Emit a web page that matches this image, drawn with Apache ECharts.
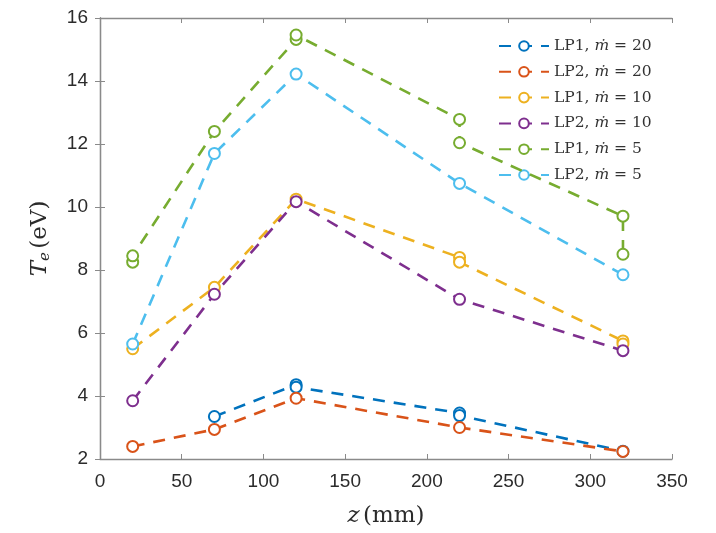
<!DOCTYPE html>
<html>
<head>
<meta charset="utf-8">
<script src="https://cdn.jsdelivr.net/npm/echarts@6/dist/echarts.min.js"></script>
<style>
  html, body { margin: 0; padding: 0; background: #fff; }
  #chart { width: 716px; height: 533px; }
</style>
</head>
<body>
<div id="chart"></div>
<script>
// Axial position of the probes, z (mm)
const zTicks = [0, 50, 100, 150, 200, 250, 300, 350];
const teTicks = [2, 4, 6, 8, 10, 12, 14, 16];

// Electron temperature Te (eV) measured at each z; repeated z = repeated shots
const lp1_m20 = [[70, 3.35], [120, 4.36], [120, 4.28], [220, 3.46], [220, 3.38], [320, 2.25]];
const lp2_m20 = [[20, 2.40], [70, 2.94], [120, 3.93], [220, 3.00], [320, 2.24]];
const lp1_m10 = [[20, 5.50], [70, 7.45], [120, 10.25], [220, 8.40], [220, 8.25], [320, 5.75], [320, 5.65]];
const lp2_m10 = [[20, 3.85], [70, 7.23], [120, 10.17], [220, 7.07], [320, 5.44]];
const lp1_m5  = [[20, 8.25], [20, 8.45], [70, 12.40], [120, 15.32], [120, 15.46], [220, 12.78], [220, 12.04], [320, 9.71], [320, 8.50]];
const lp2_m5  = [[20, 5.65], [70, 11.70], [120, 14.22], [220, 10.75], [320, 7.85]];

const seriesNames = ['LP1, ṁ = 20', 'LP2, ṁ = 20', 'LP1, ṁ = 10', 'LP2, ṁ = 10', 'LP1, ṁ = 5', 'LP2, ṁ = 5'];
const seriesData = [lp1_m20, lp2_m20, lp1_m10, lp2_m10, lp1_m5, lp2_m5];
const colors = ['#0072BD', '#D95319', '#EDB120', '#7E2F8E', '#77AC30', '#4DBEEE'];

const axisColor = '#8a8a8a';
const labelColor = '#2b2b2b';
const serif = '"DejaVu Serif", "Liberation Serif", serif';
const sans = '"Liberation Sans", Arial, sans-serif';

function frameAxis(extra) {
  return Object.assign({
    type: 'value',
    axisLine: { show: true, lineStyle: { color: axisColor, width: 1.3 } },
    axisTick: { show: true, inside: true, length: 5, lineStyle: { color: axisColor } },
    splitLine: { show: false },
    axisLabel: { show: false }
  }, extra);
}

const chart = echarts.init(document.getElementById('chart'), null, { renderer: 'canvas' });

chart.setOption({
  backgroundColor: '#ffffff',
  animation: false,
  color: colors,
  grid: { left: 100, right: 44, top: 18, bottom: 74, containLabel: false, outerBoundsMode: 'none' },
  xAxis: [
    frameAxis({
      min: zTicks[0], max: zTicks[zTicks.length - 1], interval: 50,
      position: 'bottom',
      axisLabel: { show: true, color: labelColor, fontSize: 19, fontFamily: sans, margin: 13 },
      name: '{i|z} {r|(mm)}',
      nameLocation: 'middle',
      nameGap: 46,
      nameTextStyle: {
        rich: {
          i: { fontFamily: serif, fontStyle: 'italic', fontSize: 23, color: labelColor },
          r: { fontFamily: serif, fontSize: 23, color: labelColor }
        }
      }
    }),
    frameAxis({ min: 0, max: 350, interval: 50, position: 'top' })
  ],
  yAxis: [
    frameAxis({
      min: teTicks[0], max: teTicks[teTicks.length - 1], interval: 2,
      position: 'left',
      axisLabel: { show: true, color: labelColor, fontSize: 19, fontFamily: sans, margin: 12 },
      name: '{i|T}{s|e} {r|(eV)}',
      nameLocation: 'middle',
      nameGap: 47,
      nameRotate: 90,
      nameTextStyle: {
        rich: {
          i: { fontFamily: serif, fontStyle: 'italic', fontSize: 23, color: labelColor },
          s: { fontFamily: serif, fontStyle: 'italic', fontSize: 15, color: labelColor, padding: [10, 0, 0, 0] },
          r: { fontFamily: serif, fontSize: 23, color: labelColor }
        }
      }
    }),
    frameAxis({ min: 2, max: 16, interval: 2, position: 'right' })
  ],
  legend: {
    orient: 'vertical',
    left: 493,
    top: 33,
    itemWidth: 50,
    itemHeight: 12,
    itemGap: 9.8,
    data: seriesNames,
    formatter: function (name) {
      const parts = name.split('ṁ');
      return '{a|' + parts[0] + '}{m|ṁ}{a|' + parts[1] + '}';
    },
    textStyle: {
      rich: {
        a: { fontFamily: serif, fontSize: 15.5, color: '#333' },
        m: { fontFamily: serif, fontStyle: 'italic', fontSize: 15.5, color: '#333' }
      }
    }
  },
  series: seriesData.map(function (d, i) {
    return {
      name: seriesNames[i],
      type: 'line',
      data: d,
      showAllSymbol: true,
      symbol: 'emptyCircle',
      symbolSize: 11,
      itemStyle: { color: colors[i], borderColor: colors[i], borderWidth: 2.3 },
      lineStyle: { color: colors[i], width: 2.6, type: [12, 9] },
      z: 2 + i
    };
  })
});
</script>
</body>
</html>
